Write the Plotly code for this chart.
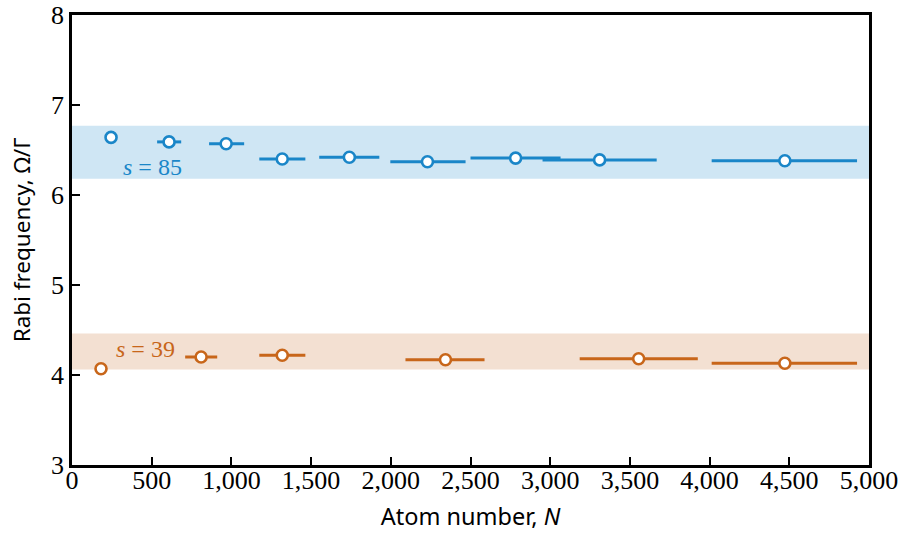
import plotly.graph_objects as go

# Data: s = 85 series
n85 = [245, 609, 967, 1319, 1740, 2230, 2783, 3310, 4472]
r85 = [6.64, 6.59, 6.57, 6.40, 6.42, 6.37, 6.41, 6.39, 6.38]
n85_lo = [0, 75, 107, 144, 189, 233, 283, 358, 459]
n85_hi = [0, 76, 113, 145, 188, 239, 282, 358, 453]

# Data: s = 39 series
n39 = [182, 810, 1319, 2343, 3555, 4472]
r39 = [4.07, 4.20, 4.22, 4.17, 4.18, 4.13]
n39_lo = [0, 100, 144, 251, 370, 459]
n39_hi = [0, 101, 145, 245, 371, 453]

band85 = [6.18, 6.77]
band39 = [4.06, 4.46]

x_ticks = list(range(0, 5001, 500))
x_ticktext = [f"{v:,}" for v in x_ticks]
y_ticks = [3, 4, 5, 6, 7, 8]

blue = "#1a86c8"
orange = "#c8661a"

fig = go.Figure()
for n, r, lo, hi, col in [(n85, r85, n85_lo, n85_hi, blue), (n39, r39, n39_lo, n39_hi, orange)]:
    fig.add_trace(go.Scatter(
        x=n, y=r, mode="markers",
        marker=dict(symbol="circle", size=11, color="white", line=dict(color=col, width=2.6)),
        error_x=dict(type="data", symmetric=False, array=hi, arrayminus=lo,
                     color=col, thickness=3, width=0),
        showlegend=False))

fig.add_shape(type="rect", xref="paper", yref="y", x0=0, x1=1, y0=band85[0], y1=band85[1],
              fillcolor="#cfe6f4", line_width=0, layer="below")
fig.add_shape(type="rect", xref="paper", yref="y", x0=0, x1=1, y0=band39[0], y1=band39[1],
              fillcolor="#f3e0d2", line_width=0, layer="below")

fig.add_annotation(x=502, y=6.31, text="<i>s</i> = 85", showarrow=False,
                   font=dict(family="Liberation Serif", size=24, color=blue))
fig.add_annotation(x=458, y=4.29, text="<i>s</i> = 39", showarrow=False,
                   font=dict(family="Liberation Serif", size=24, color=orange))

serif = dict(family="Liberation Serif", size=26, color="black")
sans_x = dict(family="Noto Sans", size=23.5, color="black")
sans_y = dict(family="Noto Sans", size=22.5, color="black")

fig.update_layout(
    width=901, height=533,
    margin=dict(l=72, r=32, t=15, b=68),
    plot_bgcolor="white", paper_bgcolor="white",
    font=serif,
    xaxis=dict(range=[0, 5000], tickmode="array", tickvals=x_ticks, ticktext=x_ticktext,
               showline=True, linecolor="black", linewidth=2.5, mirror=True,
               ticks="inside", ticklen=8, tickwidth=1.5, tickcolor="black",
               showgrid=False, zeroline=False, tickfont=serif, ticklabeloverflow="allow",
               ticklabelstandoff=-10, automargin=False,
               title=dict(text="Atom number, <i>N</i>", font=sans_x)),
    yaxis=dict(range=[3, 8], tickmode="array", tickvals=y_ticks,
               showline=True, linecolor="black", linewidth=2.5, mirror=True,
               ticks="inside", ticklen=8, tickwidth=1.5, tickcolor="black",
               showgrid=False, zeroline=False, tickfont=serif, ticklabeloverflow="allow",
               automargin=False,
               title=dict(text="Rabi frequency, Ω/Γ", font=sans_y)),
)

fig.write_html("out.html", config={"displayModeBar": False},
               post_script="document.body.style.margin='0';")
